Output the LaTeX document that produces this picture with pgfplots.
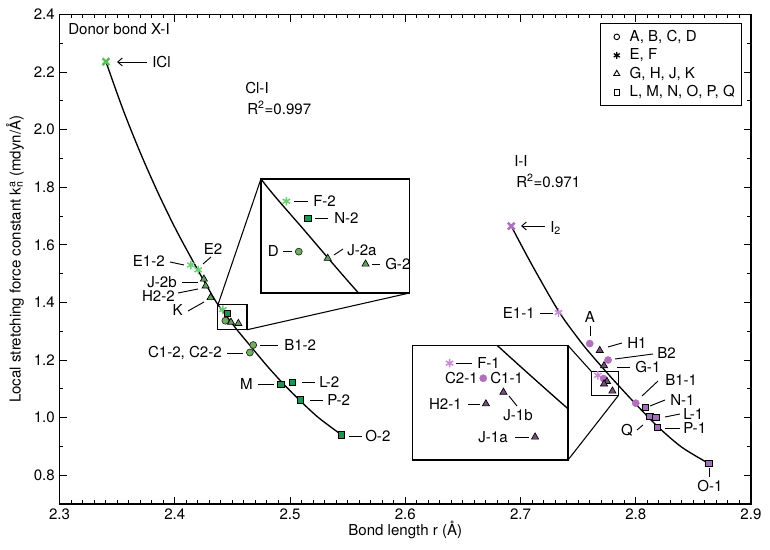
\documentclass[border=0pt]{standalone}
\usepackage{fontspec}
\setmainfont{TeX Gyre Heros}
\usepackage{pgfplots}
\pgfplotsset{compat=1.18}
\usetikzlibrary{arrows.meta}

\definecolor{gX}{RGB}{88,190,88}
\definecolor{gStar}{RGB}{110,205,110}
\definecolor{gCirc}{RGB}{112,176,92}
\definecolor{gTri}{RGB}{98,160,98}
\definecolor{gSq}{RGB}{28,150,78}
\definecolor{pX}{RGB}{172,112,190}
\definecolor{pStar}{RGB}{200,140,212}
\definecolor{pCirc}{RGB}{178,112,188}
\definecolor{pTri}{RGB}{118,78,128}
\definecolor{pSq}{RGB}{162,112,182}

\newcommand{\fs}{\fontsize{11.3}{13.3}\selectfont}

\pgfplotsset{
  mX/.style={only marks, mark=x, mark size=3.6pt, mark options={draw=#1, line width=1.8pt}, forget plot},
  mStar/.style={only marks, mark=asterisk, mark size=3.2pt, mark options={draw=#1, line width=1.1pt}, forget plot},
  mCirc/.style={only marks, mark=*, mark size=2.6pt, mark options={fill=#1, draw=black!85, line width=0.5pt}, forget plot},
  mCircP/.style={only marks, mark=*, mark size=2.7pt, mark options={fill=#1, draw=#1, line width=0.3pt}, forget plot},
  mTri/.style={only marks, mark=triangle*, mark size=3.1pt, mark options={fill=#1, draw=black, line width=0.5pt}, forget plot},
  mSq/.style={only marks, mark=square*, mark size=2.4pt, mark options={fill=#1, draw=black, line width=0.5pt}, forget plot},
  fitline/.style={black, line width=1.0pt, smooth, no marks, forget plot},
  legmark/.style={legend image code/.code={\path[draw=none] (0cm,0cm) -- (0.59cm,0cm); \draw[##1] plot coordinates {(0.32cm,0cm)};}},
}

\begin{document}
\begin{tikzpicture}[font=\fs]
\begin{axis}[
  name=ax, at={(0,0)},
  scale only axis, width=518.6pt, height=367.1pt,
  xmin=2.3, xmax=2.9, ymin=0.7, ymax=2.4,
  xtick={2.3,2.4,2.5,2.6,2.7,2.8,2.9},
  ytick={0.8,1.0,1.2,1.4,1.6,1.8,2.0,2.2,2.4},
  minor x tick num=9, minor y tick num=1,
  /pgf/number format/fixed, /pgf/number format/fixed zerofill,
  /pgf/number format/precision=1, /pgf/number format/assume math mode=true,
  major tick length=5.5pt, minor tick length=2.8pt,
  tick style={black, line width=0.7pt},
  axis line style={line width=0.9pt},
  tick label style={font=\fs},
  label style={font=\fs},
  xlabel={Bond length r (Å)},
  ylabel={Local stretching force constant k\rlap{\textsuperscript{a}}\textsubscript{n} (mdyn/Å)},
  every axis x label/.style={at={(axis description cs:0.5,0)}, anchor=center, yshift=-19.5pt},
  every axis y label/.style={at={(axis description cs:-0.0644,0.5)}, anchor=center, rotate=90},
  legend style={at={(1,1)}, anchor=north east, xshift=-6.75pt, yshift=-6.4pt,
    draw=black, line width=0.8pt, font=\fs, row sep=0pt, inner sep=3pt},
  legend cell align=left,
]
\addlegendimage{only marks, mark=o, mark size=2.1pt, black, line width=0.7pt, legmark}
\addlegendentry{A, B, C, D}
\addlegendimage{only marks, mark=asterisk, mark size=2.6pt, black, line width=1pt, legmark}
\addlegendentry{E, F}
\addlegendimage{only marks, mark=triangle, mark size=2.6pt, black, line width=0.7pt, legmark}
\addlegendentry{G, H, J, K}
\addlegendimage{only marks, mark=square, mark size=2.0pt, black, line width=0.7pt, legmark}
\addlegendentry{L, M, N, O, P, Q}

% fitted curves
\addplot[fitline] coordinates {
 (2.3403,2.236) (2.355,2.071) (2.370,1.921) (2.385,1.785) (2.400,1.661)
 (2.415,1.549) (2.430,1.442) (2.4375,1.392) (2.445,1.352) (2.454,1.305)
 (2.465,1.252) (2.480,1.180) (2.495,1.114) (2.510,1.054) (2.525,0.999) (2.5447,0.940)};
\addplot[fitline] coordinates {
 (2.692,1.665) (2.710,1.530) (2.733,1.370) (2.750,1.275) (2.760,1.225)
 (2.7742,1.1597) (2.7847,1.113) (2.800,1.047) (2.8193,0.968) (2.840,0.897) (2.8636,0.840)};

% small boxes and connectors
\draw[line width=0.8pt] (axis cs:2.4375,1.305) rectangle (axis cs:2.4627,1.392);
\draw[line width=0.8pt] (axis cs:2.7616,1.0753) rectangle (axis cs:2.7847,1.1597);
\draw[line width=0.8pt] (axis cs:2.4375,1.392) -- (axis cs:2.4748,1.8288);
\draw[line width=0.8pt] (axis cs:2.4627,1.305) -- (axis cs:2.6040,1.433);
\draw[line width=0.8pt] (axis cs:2.7413,1.250) -- (axis cs:2.7616,1.1597);
\draw[line width=0.8pt] (axis cs:2.7413,0.853) -- (axis cs:2.7847,1.0753);
\coordinate (insL) at (axis cs:2.4748,1.8288);
\coordinate (insR) at (axis cs:2.6063,1.250);

% Cl-I (green)
\addplot[mX=gX] coordinates {(2.3403,2.236)};
\addplot[mStar=gStar] coordinates {(2.414,1.530) (2.4204,1.513) (2.4418,1.375)};
\addplot[mCirc=gCirc] coordinates {(2.4439,1.3365) (2.4681,1.252) (2.4652,1.226)};
\addplot[mTri=gTri] coordinates {(2.4253,1.481) (2.4268,1.457) (2.4311,1.417) (2.4488,1.3314) (2.4552,1.327)};
\addplot[mSq=gSq] coordinates {(2.4454,1.362) (2.4921,1.116) (2.5019,1.122) (2.5092,1.061) (2.5447,0.940)};

% I-I (purple)
\addplot[mX=pX] coordinates {(2.692,1.665)};
\addplot[mStar=pStar] coordinates {(2.733,1.365) (2.7671,1.1467)};
\addplot[mCircP=pCirc] coordinates {(2.7601,1.257) (2.776,1.200) (2.7721,1.1356) (2.800,1.050)};
\addplot[mTri=pTri] coordinates {(2.7688,1.233) (2.7725,1.180) (2.7751,1.1253) (2.7725,1.1167) (2.7798,1.0922)};
\addplot[mSq=pSq] coordinates {(2.8084,1.036) (2.8121,1.0035) (2.8173,1.0014) (2.8188,0.967) (2.8636,0.842)};
\end{axis}

% left inset
\begin{axis}[
  at={(insL)}, anchor=north west, scale only axis, width=111.7pt, height=85.47pt,
  xmin=2.4375, xmax=2.4627, ymin=1.305, ymax=1.392,
  xtick=\empty, ytick=\empty, axis line style={line width=0.9pt},
  axis background/.style={fill=white}, clip marker paths=true]
\addplot[fitline] coordinates {(2.430,1.442) (2.4375,1.392) (2.445,1.352) (2.454,1.305) (2.465,1.252)};
\addplot[mStar=gStar] coordinates {(2.4418,1.375)};
\addplot[mSq=gSq] coordinates {(2.4454,1.362)};
\addplot[mCirc=gCirc] coordinates {(2.4439,1.3365)};
\addplot[mTri=gTri] coordinates {(2.4488,1.3314) (2.4552,1.327)};
\end{axis}

% right inset
\begin{axis}[
  at={(insR)}, anchor=north west, scale only axis, width=116.7pt, height=85.73pt,
  xmin=2.7616, xmax=2.7847, ymin=1.0753, ymax=1.1597,
  xtick=\empty, ytick=\empty, axis line style={line width=0.9pt},
  axis background/.style={fill=white}, clip marker paths=true]
\addplot[fitline] coordinates {(2.760,1.225) (2.7742,1.1597) (2.7847,1.113) (2.800,1.047)};
\addplot[mStar=pStar] coordinates {(2.7671,1.1467)};
\addplot[mCircP=pCirc] coordinates {(2.7721,1.1356)};
\addplot[mTri=pTri] coordinates {(2.7751,1.1253) (2.7725,1.1167) (2.7798,1.0922)};
\end{axis}

% annotations in reference pixel coordinates
\begin{scope}[shift={(ax.north west)}, xshift=-44.625pt, yshift=10.875pt, x=0.75pt, y=-0.75pt,
  every node/.style={inner sep=0pt, font=\fs}, lw/.style={line width=0.7pt}]
\node[anchor=west] at (68,29) {Donor bond X-I};
\draw[lw, -{Straight Barb[length=3.5pt,width=6pt]}] (147,62) -- (117,62);
\node[anchor=west] at (152,62) {ICl};
\node[anchor=west] at (245,88) {Cl-I};
\node[anchor=west] at (247,108) {R\textsuperscript{2}=0.997};
\node[anchor=west] at (514,161) {I-I};
\node[anchor=west] at (516,181) {R\textsuperscript{2}=0.971};
\draw[lw, -{Straight Barb[length=3.5pt,width=6pt]}] (545,226) -- (521,226);
\node[anchor=west] at (550,228) {I\textsubscript{2}};
% left labels
\node[anchor=east] at (165,261) {E1-2}; \draw[lw] (170,262) -- (184,265);
\node[anchor=center] at (213,249) {E2}; \draw[lw] (203,264) -- (211,257);
\node[anchor=east] at (177,282) {J-2b}; \draw[lw] (182,282) -- (198,282);
\node[anchor=east] at (175,296) {H2-2}; \draw[lw] (178,293) -- (198,289);
\node[anchor=east] at (183,310) {K}; \draw[lw] (188,311) -- (204,302);
\node[anchor=east] at (222,353) {C1-2, C2-2}; \draw[lw] (227,353) -- (243,353);
\node[anchor=west] at (284,345) {B1-2}; \draw[lw] (260,345) -- (278,345);
\node[anchor=east] at (253,384) {M}; \draw[lw] (258,384) -- (274,384);
\node[anchor=west] at (319,382) {L-2}; \draw[lw] (302,382) -- (315,382);
\node[anchor=west] at (327,400) {P-2}; \draw[lw] (310,400) -- (323,400);
\node[anchor=west] at (365,436) {O-2}; \draw[lw] (349,436) -- (362,436);
% left inset labels
\node[anchor=west] at (313,201) {F-2}; \draw[lw] (294,201) -- (308,201);
\node[anchor=west] at (334,218) {N-2}; \draw[lw] (315,218) -- (328,218);
\node[anchor=east] at (279,251) {D}; \draw[lw] (283,251) -- (292,251);
\node[anchor=west] at (347,250) {J-2a}; \draw[lw] (334,255) -- (343,249);
\node[anchor=west] at (385,264) {G-2}; \draw[lw] (372,264) -- (380,264);
% right inset labels
\node[anchor=west] at (477,363) {F-1}; \draw[lw] (456,363) -- (472,363);
\node[anchor=east] at (478,378) {C2-1};
\node[anchor=west] at (490,378) {C1-1};
\node[anchor=east] at (462,404) {H2-1}; \draw[lw] (468,404) -- (480,404);
\node[anchor=center] at (518,415) {J-1b}; \draw[lw] (509,396) -- (517,406);
\node[anchor=east] at (508,437) {J-1a}; \draw[lw] (515,437) -- (529,437);
% right labels
\node[anchor=east] at (535,313) {E1-1}; \draw[lw] (540,313) -- (553,313);
\node[anchor=center] at (590,317) {A}; \draw[lw] (590,326) -- (590,336);
\node[anchor=west] at (627,343) {H1}; \draw[lw] (608,347) -- (622,343);
\node[anchor=west] at (657,353) {B2}; \draw[lw] (615,359) -- (653,354);
\node[anchor=west] at (635,367) {G-1}; \draw[lw] (617,367) -- (630,367);
\node[anchor=west] at (665,380) {B1-1}; \draw[lw] (642,396) -- (658,381);
\node[anchor=west] at (670,400) {N-1}; \draw[lw] (650,406) -- (665,400);
\node[anchor=west] at (683,414) {L-1}; \draw[lw] (665,417) -- (680,414);
\node[anchor=west] at (683,428) {P-1}; \draw[lw] (665,428) -- (680,428);
\node[anchor=east] at (633,430) {Q}; \draw[lw] (637,430) -- (643,425);
\node[anchor=center] at (710,486) {O-1}; \draw[lw] (709.3,468) -- (709.3,477);
\pgfresetboundingbox
\path (0,0) rectangle (770,549);
\end{scope}
\end{tikzpicture}
\end{document}
